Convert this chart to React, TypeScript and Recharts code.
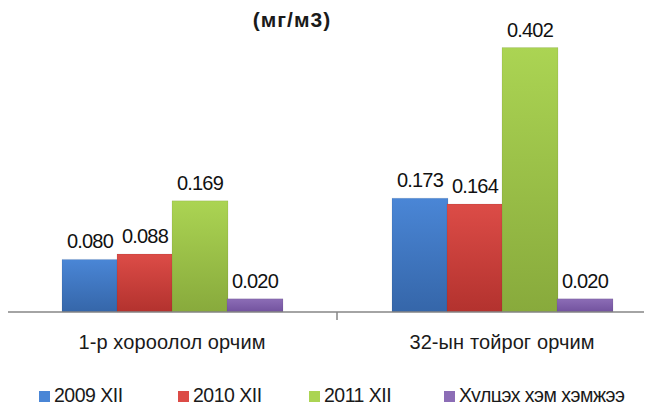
import { BarChart, Bar, XAxis, YAxis, LabelList, Legend } from "recharts";

const categories = ["1-р хороолол орчим", "32-ын тойрог орчим"];
const y2009 = [0.08, 0.173];
const y2010 = [0.088, 0.164];
const y2011 = [0.169, 0.402];
const norm = [0.02, 0.02];

const seriesNames = ["2009 XII", "2010 XII", "2011 XII", "Хулцэх хэм хэмжээ"];
const seriesKeys = ["y2009", "y2010", "y2011", "norm"];
const colors = [
  ["#4a86d6", "#3566a9"],
  ["#dc4c47", "#b3322e"],
  ["#abd453", "#88aa3c"],
  ["#8c6db6", "#72529e"]
];

const data = categories.map((name, i) => ({
  name,
  y2009: y2009[i],
  y2010: y2010[i],
  y2011: y2011[i],
  norm: norm[i]
}));

const font = "'Liberation Sans', Arial, sans-serif";

function CategoryTick(props: any) {
  const { x, y, payload } = props;
  return (
    <g>
      <line x1={x - 165} y1={y - 8} x2={x - 165} y2={y} stroke="#868686" strokeWidth={1.5} />
      <text x={x} y={y + 29} textAnchor="middle" fontSize={20} fill="#1a1a1a" fontFamily={font} letterSpacing={0.1}>
        {payload.value}
      </text>
    </g>
  );
}

function ChartLegend() {
  const lefts = [32, 171, 302, 437];
  return (
    <div style={{ position: "relative", height: 48, fontFamily: font }}>
      {seriesNames.map((s, i) => (
        <div key={s} style={{ position: "absolute", left: lefts[i], top: 23, display: "flex", alignItems: "center", fontSize: 19.5, lineHeight: "20px", color: "#1a1a1a", letterSpacing: -0.5, whiteSpace: "nowrap" }}>
          <span style={{ width: 11, height: 11, background: colors[i][0], marginRight: 4, marginTop: 3, display: "inline-block" }} />
          {s}
        </div>
      ))}
    </div>
  );
}

export default function App() {
  return (
    <div style={{ position: "relative", width: 652, height: 410, margin: -8, overflow: "hidden", background: "#fff" }}>
      <div style={{ position: "absolute", left: 0, width: 584, top: 8, textAlign: "center", fontFamily: font, fontWeight: "bold", fontSize: 21, color: "#1a1a1a", letterSpacing: 1 }}>
        (мг/м3)
      </div>
      <BarChart
        width={690}
        height={410}
        data={data}
        margin={{ top: 16, right: 23, left: 7, bottom: 0 }}
        barCategoryGap={55}
        barGap={-1}
      >
        <defs>
          {colors.map((c, i) => (
            <linearGradient key={i} id={`g${i}`} x1="0" y1="0" x2="0" y2="1">
              <stop offset="0%" stopColor={c[0]} />
              <stop offset="100%" stopColor={c[1]} />
            </linearGradient>
          ))}
        </defs>
        <XAxis
          dataKey="name"
          axisLine={{ stroke: "#868686", strokeWidth: 1.5 }}
          tickLine={false}
          tick={<CategoryTick />}
          height={50}
          interval={0}
        />
        <YAxis hide domain={[0, 0.45]} />
        <Legend verticalAlign="bottom" height={48} content={() => <ChartLegend />} />
        {seriesKeys.map((k, i) => (
          <Bar key={k} dataKey={k} name={seriesNames[i]} fill={`url(#g${i})`} stroke="rgba(0,0,0,0.15)" strokeWidth={0.5} isAnimationActive={false}>
            <LabelList
              dataKey={k}
              position="top"
              offset={11}
              formatter={(v: any) => Number(v).toFixed(3)}
              style={{ fontSize: 20, fill: "#111", fontFamily: font, letterSpacing: -0.8 }}
            />
          </Bar>
        ))}
      </BarChart>
    </div>
  );
}
